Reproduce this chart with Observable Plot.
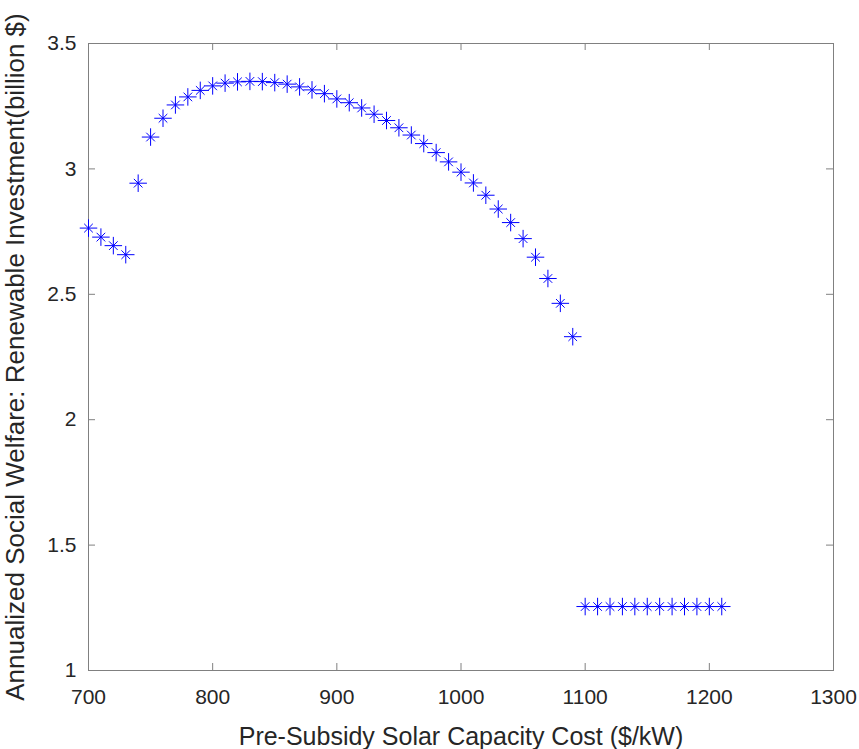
<!DOCTYPE html>
<html>
<head>
<meta charset="utf-8">
<script src="https://cdn.jsdelivr.net/npm/d3@7"></script>
<script src="https://cdn.jsdelivr.net/npm/@observablehq/plot@0.6"></script>
<style>
  html, body { margin: 0; padding: 0; background: #fff; }
  #chart svg { display: block; }
</style>
</head>
<body>
<div id="chart"></div>
<script>
// Pre-subsidy solar capacity cost ($/kW)
const costs = [
  700, 710, 720, 730, 740, 750, 760, 770, 780, 790,
  800, 810, 820, 830, 840, 850, 860, 870, 880, 890,
  900, 910, 920, 930, 940, 950, 960, 970, 980, 990,
  1000, 1010, 1020, 1030, 1040, 1050, 1060, 1070, 1080, 1090,
  1100, 1110, 1120, 1130, 1140, 1150, 1160, 1170, 1180, 1190, 1200, 1210
];
// Annualized social welfare: renewable investment (billion $)
const welfare = [
  2.764, 2.728, 2.694, 2.658, 2.943, 3.127, 3.202, 3.255, 3.287, 3.313,
  3.331, 3.342, 3.347, 3.349, 3.348, 3.344, 3.338, 3.327, 3.315, 3.300,
  3.279, 3.264, 3.243, 3.218, 3.193, 3.164, 3.135, 3.101, 3.065, 3.028,
  2.987, 2.944, 2.895, 2.840, 2.786, 2.722, 2.648, 2.563, 2.464, 2.331,
  1.255, 1.255, 1.255, 1.255, 1.255, 1.255, 1.255, 1.255, 1.255, 1.255, 1.255, 1.255
];
const xTicks = [700, 800, 900, 1000, 1100, 1200, 1300];
const yTicks = [1, 1.5, 2, 2.5, 3, 3.5];
const xDomain = [700, 1300];
const yDomain = [1, 3.5];
const xLabel = "Pre-Subsidy Solar Capacity Cost ($/kW)";
const yLabel = "Annualized Social Welfare: Renewable Investment(billion $)";

const data = costs.map((c, i) => ({cost: c, value: welfare[i]}));

const W = 859, H = 749;
const mL = 88, mR = 26, mT = 43, mB = 79;
const tickLen = 7;
const pxX = (xDomain[1] - xDomain[0]) / (W - mL - mR);
const pxY = (yDomain[1] - yDomain[0]) / (H - mT - mB);
const axisColor = "#808080";
const textColor = "#262626";
const font = "'Liberation Sans', Arial, Helvetica, sans-serif";

const chart = Plot.plot({
  width: W,
  height: H,
  marginLeft: mL,
  marginRight: mR,
  marginTop: mT,
  marginBottom: mB,
  style: {fontFamily: font, color: textColor, background: "#fff"},
  x: {domain: xDomain},
  y: {domain: yDomain},
  marks: [
    Plot.frame({stroke: axisColor, strokeWidth: 1}),
    // inward ticks on all four sides
    Plot.ruleX(xTicks, {x: d => d, y1: yDomain[0], y2: yDomain[0] + tickLen * pxY, stroke: axisColor}),
    Plot.ruleX(xTicks, {x: d => d, y1: yDomain[1], y2: yDomain[1] - tickLen * pxY, stroke: axisColor}),
    Plot.ruleY(yTicks, {y: d => d, x1: xDomain[0], x2: xDomain[0] + tickLen * pxX, stroke: axisColor}),
    Plot.ruleY(yTicks, {y: d => d, x1: xDomain[1], x2: xDomain[1] - tickLen * pxX, stroke: axisColor}),
    Plot.axisX({ticks: xTicks, tickFormat: d3.format(""), tickSize: 0, tickPadding: 19, fontSize: 21, label: null, fill: textColor}),
    Plot.axisY({ticks: yTicks, tickFormat: d3.format(""), tickSize: 0, tickPadding: 12, fontSize: 21, label: null, fill: textColor}),
    Plot.text([xLabel], {text: d => d, frameAnchor: "bottom", textAnchor: "middle", lineAnchor: "bottom", dy: 74, fontSize: 25, fill: textColor}),
    Plot.text([yLabel], {text: d => d, frameAnchor: "left", textAnchor: "middle", rotate: -90, lineAnchor: "middle", dx: -73, fontSize: 26, fill: textColor}),
    // MATLAB-style '*' markers: plus + times
    Plot.dot(data, {x: "cost", y: "value", symbol: "plus", r: 5.7, stroke: "#0000ff", strokeWidth: 1}),
    Plot.dot(data, {x: "cost", y: "value", symbol: "times", r: 4.0, stroke: "#0000ff", strokeWidth: 1})
  ]
});
document.getElementById("chart").appendChild(chart);
</script>
</body>
</html>
